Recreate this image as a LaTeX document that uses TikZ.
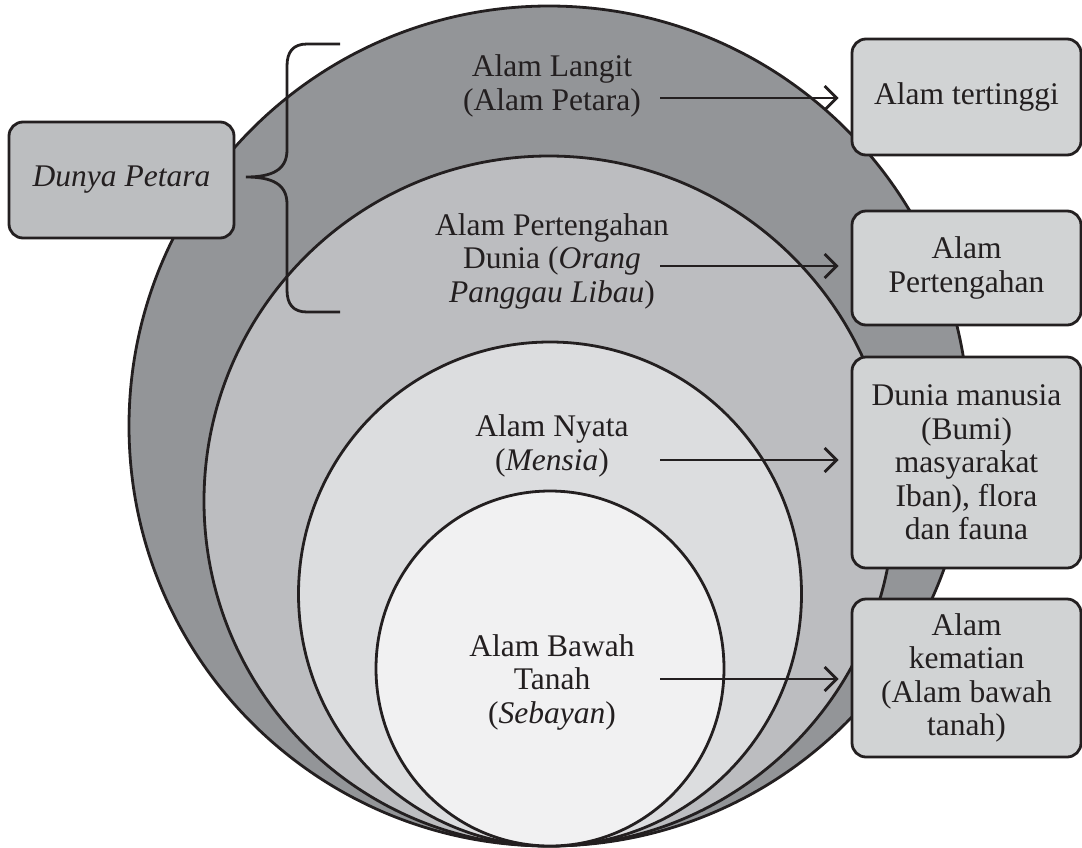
\documentclass[tikz,border=0pt]{standalone}
\usepackage{fontspec}
\setmainfont{Liberation Serif}
\usetikzlibrary{arrows.meta,shapes.geometric}
\definecolor{ink}{HTML}{231F20}
\definecolor{ringA}{HTML}{939598}
\definecolor{ringB}{HTML}{BCBDC0}
\definecolor{ringC}{HTML}{DCDDDF}
\definecolor{ringD}{HTML}{F1F1F2}
\definecolor{boxR}{HTML}{D1D3D4}
\definecolor{boxL}{HTML}{BCBEC0}
\begin{document}
\begin{tikzpicture}[x=1pt,y=-1pt,
  ring/.style={ellipse,draw=ink,line width=2.8pt,inner sep=0pt},
  lbl/.style={align=center,text=ink,inner sep=0pt,font=\fontsize{31.5}{33.5}\selectfont},
  sidebox/.style={draw=ink,line width=2.8pt,rounded corners=14pt,fill=boxR,align=center,text=ink,inner sep=0pt,font=\fontsize{31.5}{33.5}\selectfont},
  arr/.style={draw=ink,line width=2.8pt,shorten >=12pt,-{Straight Barb[length=12pt,width=24pt,line width=2.8pt]}},
  bracestyle/.style={draw=ink,line width=2.8pt}
]
\useasboundingbox (0,0) rectangle (1082,847);
% rings
\node[ring,fill=ringA,minimum width=840pt,minimum height=840pt] (c1) at (549,426) {};
\node[ring,fill=ringB,minimum width=690pt,minimum height=690pt] (c2) at (549,501) {};
\node[ring,fill=ringC,minimum width=503pt,minimum height=504pt] (c3) at (550,594) {};
\node[ring,fill=ringD,minimum width=348pt,minimum height=355pt] (c4) at (550,668.5) {};
% ring labels
\node[lbl] (t1) at (552,86) {Alam Langit\\(Alam Petara)};
\node[lbl] (t2) at (552,261) {Alam Pertengahan\\Dunia (\textit{Orang}\\\textit{Panggau Libau})};
\node[lbl] (t3) at (552,446) {Alam Nyata\\(\textit{Mensia})};
\node[lbl] (t4) at (552,682) {Alam Bawah\\Tanah\\(\textit{Sebayan})};
% brace
\draw[bracestyle] (340,44) -- (307,44) .. controls (293,44) and (287,52) .. (287,66)
  -- (287,150) .. controls (287,170) and (272,177) .. (246,177)
  .. controls (272,177) and (287,184) .. (287,204)
  -- (287,290) .. controls (287,304) and (293,312) .. (307,312) -- (340,312);
% boxes
\node[sidebox,fill=boxL,minimum width=225pt,minimum height=116pt,font=\fontsize{31.5}{33.5}\selectfont\itshape] (d) at (121.5,180) {Dunya Petara};
\node[sidebox,minimum width=229pt,minimum height=116pt] (b1) at (966.5,97) {Alam tertinggi};
\node[sidebox,minimum width=229pt,minimum height=114pt] (b2) at (966.5,268) {Alam\\Pertengahan};
\node[sidebox,minimum width=229pt,minimum height=211pt] (b3) at (966.5,462.5) {Dunia manusia\\(Bumi)\\masyarakat\\Iban), flora\\dan fauna};
\node[sidebox,minimum width=229pt,minimum height=158pt] (b4) at (966.5,678) {Alam\\kematian\\(Alam bawah\\tanah)};
% arrows
\coordinate (s1) at (660,98);
\coordinate (s2) at (660,266);
\coordinate (s3) at (660,460);
\coordinate (s4) at (660,679);
\draw[arr] (s1) -- (s1 -| b1.west);
\draw[arr] (s2) -- (s2 -| b2.west);
\draw[arr] (s3) -- (s3 -| b3.west);
\draw[arr] (s4) -- (s4 -| b4.west);
\end{tikzpicture}
\end{document}
